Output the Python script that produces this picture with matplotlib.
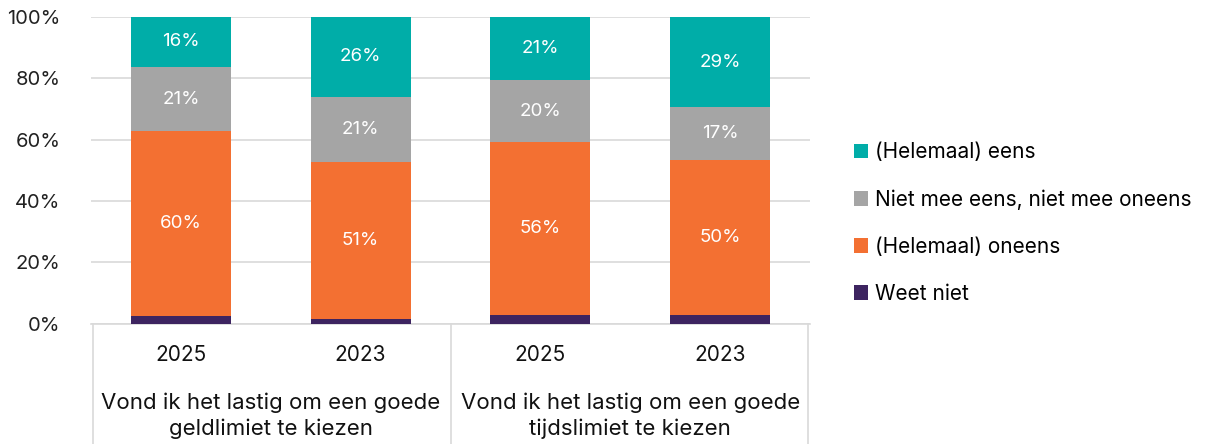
import matplotlib
matplotlib.use("Agg")
import matplotlib.pyplot as plt
import matplotlib.transforms as mtransforms
from matplotlib.patches import Patch
import numpy as np

years = ["2025", "2023", "2025", "2023"]
groups = ["Vond ik het lastig om een goede\ngeldlimiet te kiezen",
          "Vond ik het lastig om een goede\ntijdslimiet te kiezen"]

series_names = ["Weet niet", "(Helemaal) oneens",
                "Niet mee eens, niet mee oneens", "(Helemaal) eens"]
weet_niet = [2.3, 1.5, 2.8, 2.8]
oneens = [60.4, 51.3, 56.4, 50.4]
neutraal = [21.0, 21.1, 20.1, 17.4]
eens = [16.3, 26.1, 20.7, 29.4]
colors = ["#3D2460", "#F37032", "#A5A5A5", "#00ADA8"]

plt.rcParams['font.family'] = ['Inter', 'DejaVu Sans']

fig = plt.figure(figsize=(12.12, 4.44), dpi=100)
ax = fig.add_axes([91 / 1212, 1 - 323.5 / 444, 719 / 1212, 306.5 / 444])

x = np.arange(len(years))
bottom = np.zeros(len(years))
handles = []
for name, vals, col in zip(series_names, [weet_niet, oneens, neutraal, eens], colors):
    vals = np.array(vals)
    ax.bar(x, vals, width=0.556, bottom=bottom, color=col, zorder=3)
    if name != "Weet niet":
        for xi, b, v in zip(x, bottom, vals):
            ax.text(xi, b + v / 2, f"{v:.0f}%", ha='center', va='center',
                    color='white', fontsize=13.5, zorder=4)
    bottom += vals
    handles.append(Patch(facecolor=col, label=name))

ax.set_xlim(-0.5, 3.5)
ax.set_ylim(0, 100)
ax.set_yticks(range(0, 101, 20))
ax.set_yticklabels([f"{v}%" for v in range(0, 101, 20)], fontsize=14.5, color='#222222')
ax.yaxis.grid(True, color='#D9D9D9', linewidth=1.2, zorder=0)
ax.tick_params(axis='y', length=0, pad=22)
ax.set_xticks([])
for s in ['top', 'right', 'left']:
    ax.spines[s].set_visible(False)
ax.spines['bottom'].set_color('#D9D9D9')
ax.spines['bottom'].set_linewidth(1.2)

# multi-level category axis
trans = mtransforms.blended_transform_factory(ax.transData, ax.transAxes)
for xi, yr in zip(x, years):
    ax.text(xi, -0.103, yr, transform=trans, ha='center', va='center',
            fontsize=15, color='#111111', clip_on=False)
for gi, g in enumerate(groups):
    ax.text(0.5 + 2 * gi, -0.30, g, transform=trans, ha='center', va='center',
            fontsize=16, color='#111111', linespacing=1.35, clip_on=False)
for sx in [-0.49, 1.5, 3.49]:
    ax.plot([sx, sx], [0, -0.395], transform=trans, color='#D9D9D9',
            linewidth=1.2, clip_on=False)

fig.legend(handles=handles[::-1], loc='center left', bbox_to_anchor=(835 / 1212, 1 - 223 / 444),
           frameon=False, fontsize=15, handlelength=0.7, handleheight=0.7,
           handletextpad=0.3, labelspacing=1.3)

fig.savefig("out.png", dpi=100)
